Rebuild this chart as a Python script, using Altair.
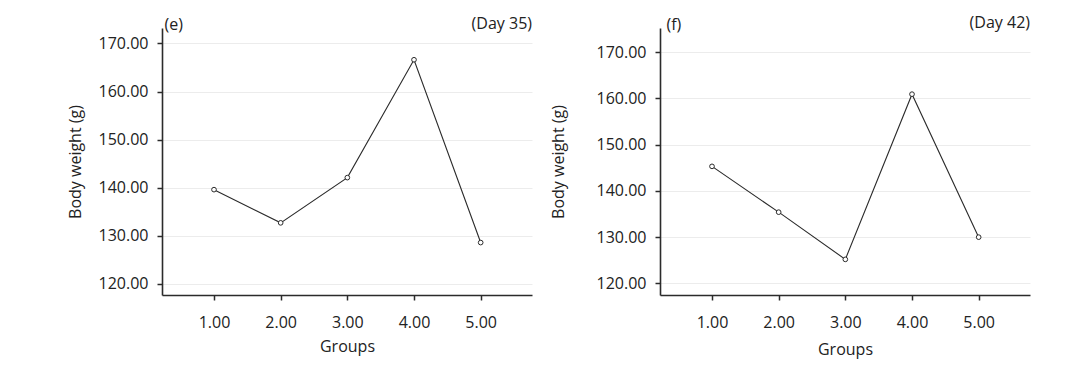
import altair as alt
import pandas as pd

groups = [1, 2, 3, 4, 5]
day35 = [139.6, 132.7, 142.1, 166.6, 128.6]
day42 = [145.3, 135.4, 125.2, 160.9, 130.0]
x_ticks = [1, 2, 3, 4, 5]
y_ticks = [120, 130, 140, 150, 160, 170]

FONT = "Open Sans"
TXT = "#222222"
INK = "#2b2b2b"


def panel(values, letter, day, ydom, ytp, xtp, letter_pos, day_pos):
    df = pd.DataFrame({"Groups": groups, "Weight": values})
    x = alt.X("Groups:Q", scale=alt.Scale(domain=[0.22, 5.77], nice=False, zero=False),
              axis=alt.Axis(values=x_ticks, format=".2f", title="Groups", grid=False,
                            titlePadding=xtp, labelPadding=14))
    y = alt.Y("Weight:Q", scale=alt.Scale(domain=ydom, nice=False, zero=False),
              axis=alt.Axis(values=y_ticks, format=".2f", title="Body weight (g)",
                            grid=True, titlePadding=ytp, labelPadding=9))
    base = alt.Chart(df).encode(x=x, y=y)
    line = base.mark_line(color=INK, strokeWidth=1.1)
    pts = base.mark_point(shape="circle", size=22, filled=True, fill="white",
                          stroke=INK, strokeWidth=1, opacity=1)
    t1 = alt.Chart(pd.DataFrame({"t": [letter]})).mark_text(
        align="left", baseline="middle", font=FONT, fontSize=16, color=TXT
    ).encode(x=alt.value(letter_pos[0]), y=alt.value(letter_pos[1]), text="t:N")
    t2 = alt.Chart(pd.DataFrame({"t": [day]})).mark_text(
        align="right", baseline="middle", font=FONT, fontSize=16, color=TXT
    ).encode(x=alt.value(day_pos[0]), y=alt.value(day_pos[1]), text="t:N")
    return alt.layer(line, pts, t1, t2).properties(width=370, height=267)


left = panel(day35, "(e)", "(Day 35)", [117.7, 173.2], 15, 8, (2.5, -3), (370, -4))
right = panel(day42, "(f)", "(Day 42)", [117.5, 175.2], 30, 11, (6.5, -3), (370, -5))

chart = alt.hconcat(left, right, spacing=18).properties(
    padding={"left": 59, "top": 7, "right": 5, "bottom": 5}
).configure_view(stroke=None).configure_axis(
    labelFont=FONT, titleFont=FONT, labelFontSize=16, titleFontSize=16,
    labelColor=TXT, titleColor=TXT, titleFontWeight="normal",
    domainColor=INK, domainWidth=1.6, tickColor=INK, tickWidth=1.5, tickSize=5,
    gridColor="#ececec", gridWidth=1
)

chart.save("out.html", embed_options={"renderer": "svg", "actions": False})
